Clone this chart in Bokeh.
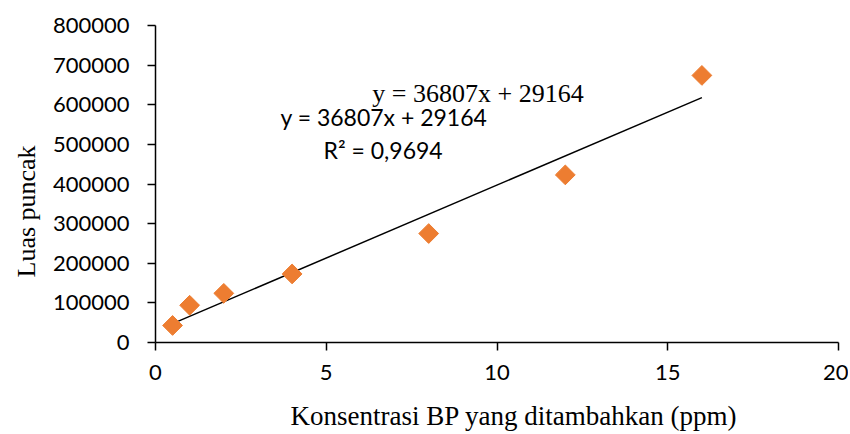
import math
from bokeh.plotting import figure
from bokeh.models import Range1d, FixedTicker, NumeralTickFormatter, Label, Title
from bokeh.embed import file_html
from bokeh.resources import INLINE

# Data
konsentrasi = [0.5, 1, 2, 4, 8, 12, 16]
luas_puncak = [43000, 94000, 124000, 173000, 275000, 423000, 674000]
slope = 36807
intercept = 29164
x_ticks = [0, 5, 10, 15, 20]
y_ticks = [0, 100000, 200000, 300000, 400000, 500000, 600000, 700000, 800000]

p = figure(width=848, height=432, output_backend="svg", toolbar_location=None,
           x_range=Range1d(0, 20), y_range=Range1d(0, 800000),
           min_border_left=155, min_border_right=10, min_border_top=25, min_border_bottom=90)
p.frame_width = 683
p.frame_height = 317
p.outline_line_color = None
p.grid.visible = False
p.background_fill_color = "white"
p.border_fill_color = "white"

fit_x = [min(konsentrasi), max(konsentrasi)]
fit_y = [slope * v + intercept for v in fit_x]
p.line(fit_x, fit_y, line_color="black", line_width=1.5)
p.scatter(konsentrasi, luas_puncak, marker="square", size=14, angle=math.pi / 4,
          fill_color="#ED7D31", line_color="#ED7D31")

serif = "Liberation Serif"
for ax in (p.xaxis[0], p.yaxis[0]):
    ax.axis_line_color = "black"
    ax.axis_line_width = 1.5
    ax.major_tick_line_color = "black"
    ax.major_tick_line_width = 1.5
    ax.major_tick_out = 8
    ax.major_tick_in = 0
    ax.minor_tick_line_color = None
    ax.major_label_text_font = "Lato"
    ax.major_label_text_font_size = "22px"
    ax.major_label_text_color = "black"

p.xaxis.ticker = FixedTicker(ticks=x_ticks)
p.yaxis.ticker = FixedTicker(ticks=y_ticks)
p.yaxis.formatter = NumeralTickFormatter(format="0")
p.xaxis.major_label_standoff = 14
p.yaxis.major_label_standoff = 18

p.add_layout(Title(text="Konsentrasi BP  yang ditambahkan (ppm)", align="left", offset=135,
                   standoff=32, text_font=serif, text_font_size="27px",
                   text_font_style="normal", text_color="black"), "below")
p.add_layout(Title(text="Luas puncak", align="left", offset=65,
                   standoff=18, text_font=serif, text_font_size="26px",
                   text_font_style="normal", text_color="black"), "left")

p.add_layout(Label(x=6.35, y=628000, text="y = 36807x + 29164",
                   text_font=serif, text_font_size="26px", text_align="left",
                   text_baseline="alphabetic", text_color="black"))
p.add_layout(Label(x=3.66, y=568000, text="y = 36807x + 29164",
                   text_font="Lato", text_font_size="23px", text_align="left",
                   text_baseline="alphabetic", text_color="black"))
p.add_layout(Label(x=4.92, y=485000, text="R² = 0,9694",
                   text_font="Lato", text_font_size="23px", text_align="left",
                   text_baseline="alphabetic", text_color="black"))

open("out.html", "w").write(file_html(p, INLINE))
